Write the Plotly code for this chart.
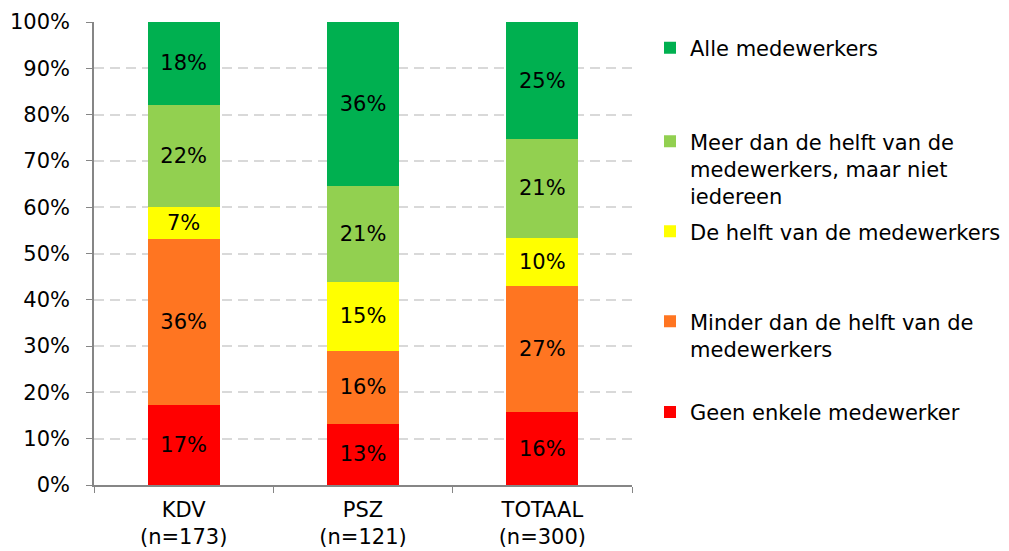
import plotly.graph_objects as go

# ── Data ─────────────────────────────────────────────────────────────────────
groups = ["KDV", "PSZ", "TOTAAL"]
group_n = [173, 121, 300]

geen_enkele = [17.3, 13.2, 15.7]
minder_dan_helft = [35.8, 15.8, 27.3]
helft = [7.0, 14.9, 10.4]
meer_dan_helft = [22.0, 20.6, 21.3]
alle = [17.9, 35.6, 25.3]

y_ticks = [0, 10, 20, 30, 40, 50, 60, 70, 80, 90, 100]

categories = [f"{g}<br>(n={n})" for g, n in zip(groups, group_n)]

FONT = "DejaVu Sans, Verdana, sans-serif"
FS = 21

# (name, values, colour, legend id) from bottom of the stack to top
series = [
    ("Geen enkele medewerker", geen_enkele, "#FF0000", "legend5"),
    ("Minder dan de helft van de<br>medewerkers", minder_dan_helft, "#FF7521", "legend4"),
    ("De helft van de medewerkers", helft, "#FFFF00", "legend3"),
    ("Meer dan de helft van de<br>medewerkers, maar niet<br>iedereen", meer_dan_helft, "#92D050", "legend2"),
    ("Alle medewerkers", alle, "#00B050", "legend"),
]

fig = go.Figure()
for name, vals, color, leg in series:
    fig.add_trace(go.Bar(
        x=categories,
        y=vals,
        name=name,
        legend=leg,
        marker=dict(color=color, line=dict(width=0)),
        texttemplate="%{y:.0f}%",
        textposition="inside",
        insidetextanchor="middle",
        textangle=0,
        textfont=dict(family=FONT, size=FS, color="#000000"),
    ))

# page is drawn inside the body's 8px margin, so the figure is 8px smaller
PAGE_PAD = 8
_plot_top, _plot_bottom = 22, 485           # page pixels of 100% / 0%
_plot_left, _plot_right = 94, 632

# one legend per entry so the entries sit where the original puts them
_legend_rows = {"legend": 48, "legend2": 141.7, "legend3": 231.7,
                "legend4": 321.7, "legend5": 412.3}
legends = {}
for key, row in _legend_rows.items():
    top = row - 20.5
    legends[key] = dict(
        x=(650 - _plot_left) / (_plot_right - _plot_left), xanchor="left",
        y=(_plot_bottom - top) / (_plot_bottom - _plot_top), yanchor="top",
        valign="top",
        bgcolor="rgba(0,0,0,0)",
        borderwidth=0,
        font=dict(family=FONT, size=FS, color="#000000"),
    )

W, H = 1009 - PAGE_PAD, 551 - PAGE_PAD
fig.update_layout(
    **legends,
    barmode="stack",
    bargap=0.6,
    width=W,
    height=H,
    paper_bgcolor="white",
    plot_bgcolor="white",
    font=dict(family=FONT, size=FS, color="#000000"),
    margin=dict(l=_plot_left - PAGE_PAD, r=1009 - _plot_right, t=_plot_top - PAGE_PAD,
                b=551 - _plot_bottom, autoexpand=False),
    showlegend=True,
    xaxis=dict(
        automargin=False,
        showline=True,
        linecolor="#868686",
        linewidth=1.5,
        ticks="outside",
        tickson="boundaries",
        ticklen=6,
        tickcolor="#868686",
        ticklabelstandoff=5,
        showgrid=False,
        tickfont=dict(family=FONT, size=FS, color="#000000"),
    ),
    yaxis=dict(
        automargin=False,
        range=[0, 100],
        tickvals=y_ticks,
        ticktext=[f"{v}%" for v in y_ticks],
        showline=True,
        linecolor="#868686",
        linewidth=1.5,
        ticks="outside",
        ticklen=6,
        tickcolor="#868686",
        ticklabelstandoff=12,
        showgrid=True,
        gridcolor="#D9D9D9",
        gridwidth=1.5,
        griddash="10px,6px",
        zeroline=False,
        tickfont=dict(family=FONT, size=FS, color="#000000"),
    ),
)

fig.write_html("out.html")
